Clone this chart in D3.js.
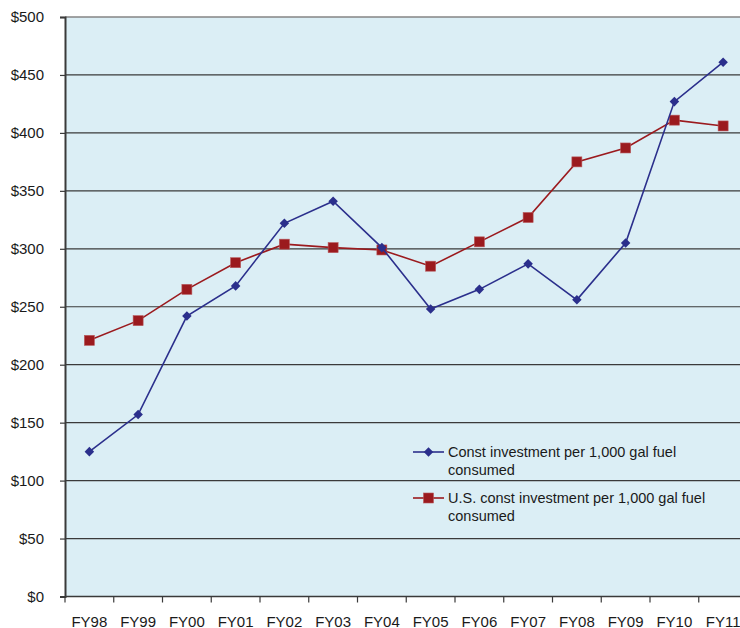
<!DOCTYPE html>
<html>
<head>
<meta charset="utf-8">
<script src="https://cdn.jsdelivr.net/npm/d3@7"></script>
<style>
  html, body { margin: 0; padding: 0; background: #ffffff; }
  svg { display: block; font-family: "Liberation Sans", Arial, sans-serif; }
</style>
</head>
<body>
<svg id="chart" width="740" height="628"></svg>
<script>
// Fiscal years on the horizontal axis
const categories = ["FY98","FY99","FY00","FY01","FY02","FY03","FY04","FY05","FY06","FY07","FY08","FY09","FY10","FY11"];

// Construction investment per 1,000 gal fuel consumed ($)
const constInvestment = [125, 157, 242, 268, 322, 341, 301, 248, 265, 287, 256, 305, 427, 461];

// U.S. construction investment per 1,000 gal fuel consumed ($)
const usConstInvestment = [221, 238, 265, 288, 304, 301, 299, 285, 306, 327, 375, 387, 411, 406];

// Value axis ticks
const yTicks = [0, 50, 100, 150, 200, 250, 300, 350, 400, 450, 500];

const seriesNames = [
  ["Const investment per 1,000 gal fuel", "consumed"],
  ["U.S. const investment per 1,000 gal fuel", "consumed"]
];

const svg = d3.select("#chart");
const plotLeft = 65, plotTop = 17, plotBottom = 596.5, plotRight = 747.5;

const x = d3.scaleBand().domain(categories).range([plotLeft, plotRight]);
const y = d3.scaleLinear().domain([0, 500]).range([plotBottom, plotTop]);

// plot background
svg.append("rect")
  .attr("x", plotLeft).attr("y", plotTop)
  .attr("width", plotRight - plotLeft).attr("height", plotBottom - plotTop)
  .attr("fill", "#dbeef5");

// horizontal gridlines
svg.append("g").selectAll("line")
  .data(yTicks.filter(v => v > 0 && v < 500))
  .join("line")
  .attr("x1", plotLeft).attr("x2", plotRight)
  .attr("y1", d => y(d)).attr("y2", d => y(d))
  .attr("stroke", "#3a3a3a").attr("stroke-width", 1.2);

// top border
svg.append("line")
  .attr("x1", plotLeft).attr("x2", plotRight)
  .attr("y1", y(500)).attr("y2", y(500))
  .attr("stroke", "#858585").attr("stroke-width", 1.5);

// y axis
const yAxis = d3.axisLeft(y)
  .tickValues(yTicks)
  .tickFormat(d => "$" + d)
  .tickSize(5)
  .tickPadding(16);
const gy = svg.append("g").attr("transform", `translate(${plotLeft},0)`).call(yAxis);
gy.select(".domain").attr("stroke", "#3a3a3a").attr("stroke-width", 2);
gy.selectAll(".tick line").attr("stroke", "#3a3a3a").attr("stroke-width", 1.2);
gy.selectAll(".tick text")
  .attr("fill", "#1a1a1a")
  .style("font-size", "15px")
  .style("font-family", "'Liberation Sans', Arial, sans-serif");

// x axis: ticks at category boundaries, labels centred in each band
const gx = svg.append("g").attr("transform", `translate(0,${plotBottom})`);
gx.append("line")
  .attr("x1", plotLeft).attr("x2", plotRight)
  .attr("stroke", "#3a3a3a").attr("stroke-width", 1.5);
gx.selectAll("line.tk")
  .data(categories)
  .join("line")
  .attr("class", "tk")
  .attr("x1", d => x(d)).attr("x2", d => x(d))
  .attr("y1", 0).attr("y2", 6)
  .attr("stroke", "#3a3a3a").attr("stroke-width", 1.2);
gx.selectAll("text")
  .data(categories)
  .join("text")
  .attr("x", d => x(d) + x.bandwidth() / 2)
  .attr("y", 30)
  .attr("text-anchor", "middle")
  .attr("fill", "#1a1a1a")
  .style("font-size", "15px")
  .text(d => d);

const cx = d => x(d) + x.bandwidth() / 2;
const line = d3.line().x(d => cx(d.cat)).y(d => y(d.v));

const blue = "#2b2f8c";
const red = "#9b1a1e";

const blueData = categories.map((c, i) => ({ cat: c, v: constInvestment[i] }));
const redData = categories.map((c, i) => ({ cat: c, v: usConstInvestment[i] }));

const diamond = d3.symbol().type(d3.symbolDiamond2).size(58);

// red series
svg.append("path").datum(redData)
  .attr("d", line).attr("fill", "none")
  .attr("stroke", red).attr("stroke-width", 1.6);
svg.append("g").selectAll("rect")
  .data(redData).join("rect")
  .attr("x", d => cx(d.cat) - 5).attr("y", d => y(d.v) - 5)
  .attr("width", 10).attr("height", 10)
  .attr("fill", red).attr("stroke", "#b8585b").attr("stroke-width", 0.6);

// blue series
svg.append("path").datum(blueData)
  .attr("d", line).attr("fill", "none")
  .attr("stroke", blue).attr("stroke-width", 1.6);
svg.append("g").selectAll("path")
  .data(blueData).join("path")
  .attr("transform", d => `translate(${cx(d.cat)},${y(d.v)})`)
  .attr("d", diamond)
  .attr("fill", blue);

// legend
const legend = svg.append("g");
const lx1 = 413, lx2 = 444, tx = 448;
const ly = [452, 498];
legend.append("line").attr("x1", lx1).attr("x2", lx2).attr("y1", ly[0]).attr("y2", ly[0])
  .attr("stroke", blue).attr("stroke-width", 1.6);
legend.append("path").attr("transform", `translate(${(lx1 + lx2) / 2},${ly[0]})`)
  .attr("d", diamond).attr("fill", blue);
legend.append("line").attr("x1", lx1).attr("x2", lx2).attr("y1", ly[1]).attr("y2", ly[1])
  .attr("stroke", red).attr("stroke-width", 1.6);
legend.append("rect").attr("x", (lx1 + lx2) / 2 - 5).attr("y", ly[1] - 5)
  .attr("width", 10).attr("height", 10)
  .attr("fill", red).attr("stroke", "#b8585b").attr("stroke-width", 0.6);

seriesNames.forEach((lines, i) => {
  const t = legend.append("text")
    .attr("x", tx).attr("y", ly[i] + 5)
    .attr("fill", "#1a1a1a")
    .style("font-size", "14.5px");
  lines.forEach((s, j) => {
    t.append("tspan").attr("x", tx).attr("dy", j === 0 ? 0 : 18).text(s);
  });
});
</script>
</body>
</html>
